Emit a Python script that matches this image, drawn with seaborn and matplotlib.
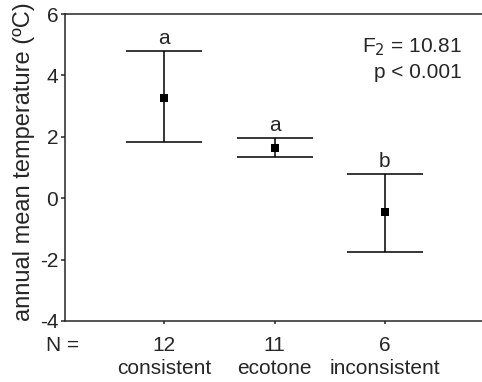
import matplotlib
matplotlib.use("Agg")
import matplotlib.pyplot as plt
import seaborn as sns
import pandas as pd

# data
groups = ["consistent", "ecotone", "inconsistent"]
n_sizes = [12, 11, 6]
means = [3.28, 1.65, -0.45]
upper = [4.80, 1.96, 0.80]
lower = [1.82, 1.34, -1.75]
letters = ["a", "a", "b"]

df = pd.DataFrame({"group": groups, "mean": means, "lower": lower, "upper": upper})

sns.set_style("ticks")
plt.rcParams["font.family"] = ["Liberation Sans", "DejaVu Sans"]
plt.rcParams["font.size"] = 15
plt.rcParams["axes.unicode_minus"] = False

fig = plt.figure(figsize=(4.82, 3.82), dpi=100)
ax = fig.add_axes([0.135, 0.160, 0.865, 0.803])

ax.errorbar(df["group"], df["mean"],
            yerr=[df["mean"] - df["lower"], df["upper"] - df["mean"]],
            fmt="none", ecolor="black", elinewidth=1.1, capsize=27.5, capthick=1.1)
sns.scatterplot(data=df, x="group", y="mean", marker="s", s=30, color="black",
                edgecolor="black", linewidth=0, ax=ax, zorder=3)

for i, (u, lt) in enumerate(zip(df["upper"], letters)):
    ax.text(i, u + 0.1, lt, ha="center", va="bottom", fontsize=15)

ax.text(2.70, 4.92, "F$_2$ = 10.81", ha="right", va="center", fontsize=15)
ax.text(2.70, 4.10, "p < 0.001", ha="right", va="center", fontsize=15)

ax.set_xlim(-0.9, 2.88)
ax.set_ylim(-4, 6)
ax.set_yticks([-4, -2, 0, 2, 4, 6])
ax.set_xticks(range(len(groups)))
ax.set_xticklabels([f"{n}\n{g}" for n, g in zip(n_sizes, groups)], linespacing=1.25)
ax.text(-0.92, -4.8, "N =", ha="center", va="center", fontsize=15, clip_on=False)

ax.set_xlabel("")
ax.set_ylabel("annual mean temperature (ºC)", fontsize=17)
ax.yaxis.set_label_coords(-0.072, 0.52)
ax.spines["right"].set_visible(False)
for sp in ["left", "bottom", "top"]:
    ax.spines[sp].set_linewidth(1.1)
ax.tick_params(axis="y", length=3, width=1.1, pad=2)
ax.tick_params(axis="x", length=2, width=1.1, pad=9)

fig.savefig("out.png", dpi=100)
